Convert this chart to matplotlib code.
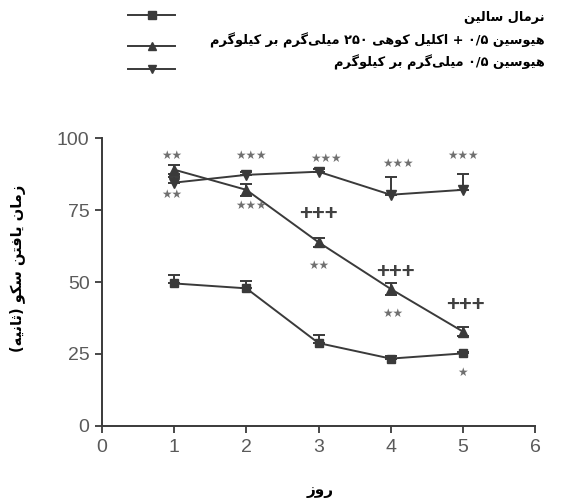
import matplotlib
matplotlib.use("Agg")
import matplotlib.pyplot as plt
from matplotlib.lines import Line2D
import numpy as np

# ---------------- data ----------------
days = [1, 2, 3, 4, 5]
saline = [49.5, 47.8, 28.8, 23.4, 25.2]
saline_err = [3.0, 2.7, 2.8, 1.0, 0.6]
combo = [89.0, 82.0, 63.8, 47.6, 32.8]
combo_err = [1.5, 2.0, 1.6, 2.0, 1.6]
hyos = [84.5, 87.2, 88.3, 80.3, 82.0]
hyos_err = [2.0, 1.0, 1.0, 6.0, 5.6]

xticks = [0, 1, 2, 3, 4, 5, 6]
yticks = [0, 25, 50, 75, 100]

labels = ["نرمال سالین",
          "هیوسین ۰/۵ + اکلیل کوهی ۲۵۰ میلی‌گرم بر کیلوگرم",
          "هیوسین ۰/۵ میلی‌گرم بر کیلوگرم"]
xlabel = "روز"
ylabel = "زمان یافتن سکو (ثانیه)"

# significance annotations: (x, y, text)
stars = [(0.97, 94.0, "**"), (0.97, 80.5, "**"),
         (2.07, 93.8, "***"), (2.07, 76.5, "***"),
         (3.1, 93.0, "***"), (3.0, 55.8, "**"),
         (4.1, 91.0, "***"), (4.03, 39.0, "**"),
         (5.0, 94.0, "***"), (5.0, 18.6, "*")]
pluses = [(3.0, 73.4, "+++"), (4.06, 53.4, "+++"), (5.04, 42.0, "+++")]

# ------------- minimal Persian shaping (presentation forms) -------------
FORMS = {
    'ا': ('\uFE8D', '\uFE8E', None, None),
    'ب': ('\uFE8F', '\uFE90', '\uFE91', '\uFE92'),
    'ت': ('\uFE95', '\uFE96', '\uFE97', '\uFE98'),
    'ث': ('\uFE99', '\uFE9A', '\uFE9B', '\uFE9C'),
    'ر': ('\uFEAD', '\uFEAE', None, None),
    'ز': ('\uFEAF', '\uFEB0', None, None),
    'س': ('\uFEB1', '\uFEB2', '\uFEB3', '\uFEB4'),
    'ف': ('\uFED1', '\uFED2', '\uFED3', '\uFED4'),
    'ق': ('\uFED5', '\uFED6', '\uFED7', '\uFED8'),
    'ک': ('\uFB8E', '\uFB8F', '\uFB90', '\uFB91'),
    'گ': ('\uFB92', '\uFB93', '\uFB94', '\uFB95'),
    'ل': ('\uFEDD', '\uFEDE', '\uFEDF', '\uFEE0'),
    'م': ('\uFEE1', '\uFEE2', '\uFEE3', '\uFEE4'),
    'ن': ('\uFEE5', '\uFEE6', '\uFEE7', '\uFEE8'),
    'ه': ('\uFEE9', '\uFEEA', '\uFEEB', '\uFEEC'),
    'و': ('\uFEED', '\uFEEE', None, None),
    'ی': ('\uFBFC', '\uFBFD', '\uFBFE', '\uFBFF'),
}
DIGITS = set("۰۱۲۳۴۵۶۷۸۹0123456789/.")


def shape(s):
    out = []
    n = len(s)
    for i, c in enumerate(s):
        if c not in FORMS:
            if c != '\u200c':
                out.append(c)
            continue
        prev = s[i - 1] if i > 0 else ''
        nxt = s[i + 1] if i < n - 1 else ''
        cp = prev in FORMS and FORMS[prev][2] is not None
        cn = FORMS[c][2] is not None and nxt in FORMS
        iso, fin, ini, med = FORMS[c]
        if cp and cn:
            out.append(med)
        elif cp:
            out.append(fin)
        elif cn:
            out.append(ini)
        else:
            out.append(iso)
    r = ''.join(out)[::-1]
    r = r.translate(str.maketrans({'(': ')', ')': '('}))
    # restore left-to-right order of number runs
    res, buf = [], []
    for ch in r:
        if ch in DIGITS:
            buf.append(ch)
        else:
            if buf:
                res.extend(buf[::-1]); buf = []
            res.append(ch)
    if buf:
        res.extend(buf[::-1])
    return ''.join(res)


# ---------------- figure ----------------
W, H = 574, 501
fig = plt.figure(figsize=(W / 100, H / 100), dpi=100)
ax = fig.add_axes([102 / W, 1 - 426 / H, (535 - 102) / W, (426 - 138) / H])

lc = "#3a3a3a"
ax.errorbar(days, saline, yerr=[np.zeros(5), saline_err], color=lc, lw=1.4,
            marker='s', ms=6, capsize=4, elinewidth=1.4, capthick=1.4)
ax.errorbar(days, combo, yerr=combo_err, color=lc, lw=1.4,
            marker='^', ms=7, capsize=4, elinewidth=1.4, capthick=1.4)
ax.errorbar(days, hyos, yerr=[np.zeros(5), hyos_err], color=lc, lw=1.4,
            marker='v', ms=7, capsize=4, elinewidth=1.4, capthick=1.4)

ax.set_xlim(0, 6)
ax.set_ylim(0, 100)
ax.set_xticks(xticks)
ax.set_yticks(yticks)
for s in ['top', 'right']:
    ax.spines[s].set_visible(False)
for s in ['left', 'bottom']:
    ax.spines[s].set_color(lc)
    ax.spines[s].set_linewidth(1.4)
ax.tick_params(axis='both', direction='out', length=5, width=1.3, color=lc,
               labelsize=14, labelcolor="#5a5a5a", pad=4)
for lab in ax.get_xticklabels() + ax.get_yticklabels():
    lab.set_family("Liberation Sans")

for x, y, t in stars:
    ax.text(x, y, "★" * len(t), ha='center', va='center', fontsize=8.5,
            color="#707070", family="DejaVu Sans")
for x, y, t in pluses:
    ax.text(x, y, t, ha='center', va='center', fontsize=16, fontweight='bold',
            color="#404040", family="Liberation Sans")

fig.text(320 / W, 1 - 490 / H, shape(xlabel), ha='center', va='center',
         fontsize=11, fontweight='bold', family="DejaVu Sans")
fig.text(18 / W, 1 - 268 / H, shape(ylabel), ha='center', va='center',
         rotation=90, fontsize=10.5, fontweight='bold', family="DejaVu Sans")

# legend
marker_list = ['s', '^', 'v']
mark_y = [15, 46, 69]
text_y = [18, 40, 62]
for m, my, ty, lab in zip(marker_list, mark_y, text_y, labels):
    fig.add_artist(Line2D([128 / W, 175 / W], [1 - my / H, 1 - my / H],
                          color=lc, lw=1.4, marker=None))
    fig.add_artist(Line2D([152 / W], [1 - my / H], color=lc, marker=m,
                          ms=6, lw=0))
    fig.text(545 / W, 1 - ty / H, shape(lab), ha='right', va='center',
             fontsize=9.3, fontweight='bold', family="DejaVu Sans")

fig.savefig("out.png", dpi=100, facecolor='white')
